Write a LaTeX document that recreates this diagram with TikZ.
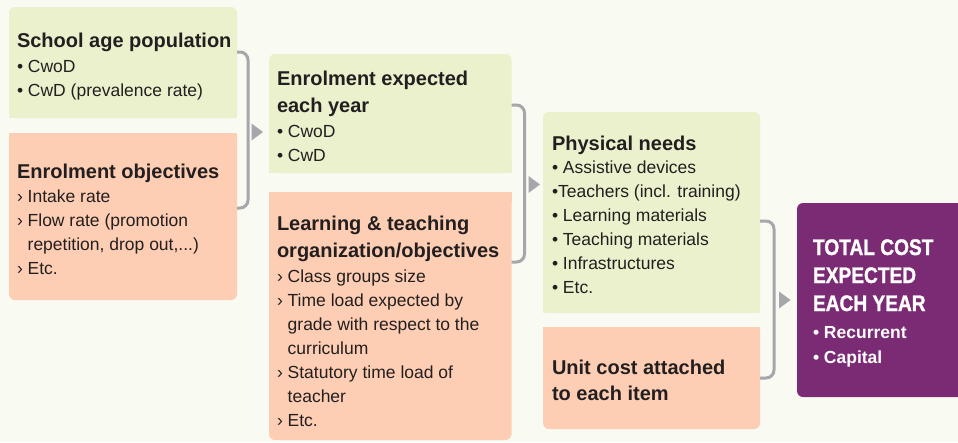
\documentclass[tikz,border=0pt]{standalone}
\usepackage{fontspec}
\setmainfont{Liberation Sans}
\newfontfamily\condbold{Liberation Sans Bold}[FakeStretch=0.85,FakeBold=1.2]
\usetikzlibrary{calc}
\definecolor{bg}{HTML}{F9FAF1}
\definecolor{boxgreen}{HTML}{EBF1CC}
\definecolor{boxorange}{HTML}{FDCEB3}
\definecolor{boxpurple}{HTML}{7B2B74}
\definecolor{linegray}{HTML}{A5A7AA}
\definecolor{ink}{HTML}{231F20}
\newcommand{\boxtxt}[4]{\parbox[t]{#1}{\raggedright\fontsize{20}{27}\selectfont\bfseries #2\par\vspace{#4}\fontsize{17.5}{24}\selectfont\mdseries #3}}
\newcommand{\ind}{\phantom{›\ }}
\begin{document}
\begin{tikzpicture}[x=1pt,y=1pt,
  box/.style={inner sep=0pt, outer sep=0pt, rounded corners=6pt, anchor=north west},
  txt/.style={anchor=base west, inner sep=0pt, outer sep=0pt, text=ink},
  bracket/.style={draw=linegray, line width=3pt, rounded corners=8pt},
  tri/.style={fill=linegray}]
\clip (0,0) rectangle (958,-442);
\fill[bg] (0,0) rectangle (958,-442);

% boxes
\node[box, fill=boxgreen, minimum width=228pt, minimum height=111pt] (b1) at (9,-7) {};
\fill[boxgreen] (b1.south west) rectangle ([yshift=10pt]b1.south east);
\node[box, fill=boxorange, minimum width=228pt, minimum height=167pt] (b2) at (9,-133) {};
\fill[boxorange] (b2.north west) rectangle ([yshift=-10pt]b2.north east);

\node[box, fill=boxgreen, minimum width=242.5pt, minimum height=119pt] (b3) at (269,-54) {};
\fill[boxgreen] (b3.south west) rectangle ([yshift=10pt]b3.south east);
\node[box, fill=boxorange, minimum width=242.5pt, minimum height=248pt] (b4) at (269,-192) {};
\fill[boxorange] (b4.north west) rectangle ([yshift=-10pt]b4.north east);

\node[box, fill=boxgreen, minimum width=217pt, minimum height=201pt] (b5) at (543,-112) {};
\fill[boxgreen] (b5.south west) rectangle ([yshift=10pt]b5.south east);
\node[box, fill=boxorange, minimum width=217pt, minimum height=102pt] (b6) at (543,-327) {};
\fill[boxorange] (b6.north west) rectangle ([yshift=-10pt]b6.north east);

\node[box, fill=boxpurple, minimum width=170pt, minimum height=194pt] (b7) at (797,-203) {};

% texts
\node[txt] (t1) at (17,-47) {\boxtxt{218pt}{School age population}{• CwoD\\• CwD (prevalence rate)}{1pt}};
\node[txt] (t2) at (17,-178) {\boxtxt{218pt}{Enrolment objectives}{› Intake rate\\› Flow rate (promotion\\\ind repetition, drop out,...)\\› Etc.}{0pt}};
\node[txt] (t3) at (277,-85) {\boxtxt{232pt}{Enrolment expected\\each year}{• CwoD\\• CwD}{1pt}};
\node[txt] (t4) at (277,-230) {\boxtxt{232pt}{Learning \& teaching\\organization/objectives}{› Class groups size\\› Time load expected by\\\ind grade with respect to the\\\ind curriculum\\› Statutory time load of\\\ind teacher\\› Etc.}{1pt}};
\node[txt] (t5) at (552,-150) {\boxtxt{206pt}{Physical needs}{• Assistive devices\\•Teachers (incl. training)\\• Learning materials\\• Teaching materials\\• Infrastructures\\• Etc.}{-1pt}};
\node[txt] (t6) at (552,-374) {\parbox[t]{206pt}{\raggedright\fontsize{20}{26}\selectfont\bfseries Unit cost attached\\to each item}};
\node[txt, text=white] (t7) at (813,-255) {\parbox[t]{142pt}{\raggedright{\condbold\fontsize{22.5}{28}\selectfont TOTAL COST\\EXPECTED\\EACH YEAR\par}\vspace{2pt}\fontsize{17.5}{25}\selectfont\bfseries • Recurrent\\• Capital}};

% brackets
\draw[bracket] ([yshift=-45pt]b1.north east) -| ([xshift=11pt]b1.south east) |- ([yshift=-75pt]b2.north east);
\draw[bracket] ([yshift=-51pt]b3.north east) -| ([xshift=13pt]b3.south east) |- ([yshift=-70pt]b4.north east);
\draw[bracket] ([yshift=-109pt]b5.north east) -| ([xshift=14pt]b5.south east) |- ([yshift=-51pt]b6.north east);

% arrow heads
\coordinate (a1) at ([xshift=-6pt]b3.west |- 0,-132);
\coordinate (a2) at ([xshift=-3pt]b5.west |- 0,-184.5);
\coordinate (a3) at ([xshift=-6.5pt]b7.west |- 0,-300);
\foreach \a in {a1,a2,a3}
  \fill[tri] (\a) -- ++(-11.5,8.5) -- ++(0,-17) -- cycle;
\end{tikzpicture}
\end{document}
